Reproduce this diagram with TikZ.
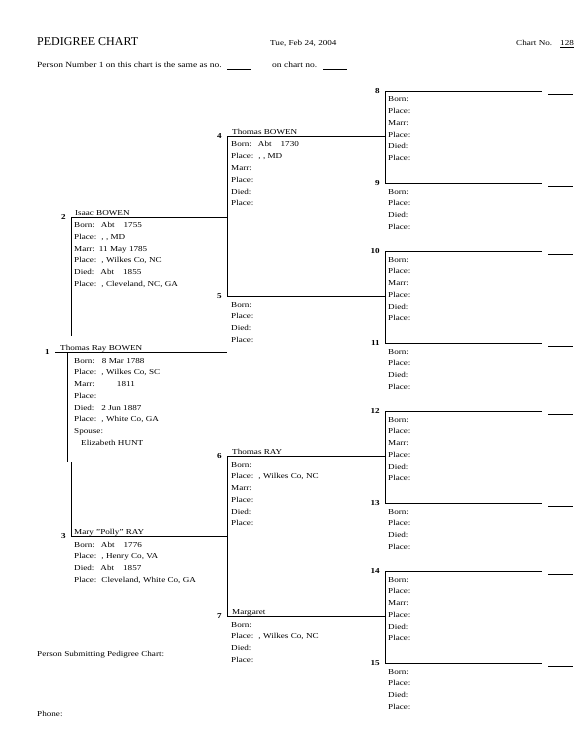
\documentclass[tikz,border=0pt]{standalone}
\usepackage{fontspec}
\setmainfont[FakeStretch=1.2]{Liberation Serif}
\newfontfamily\titlefont{Liberation Serif}
\newcommand\gp[1]{\hspace*{#1pt}}
% #1 id, #2 line start x, #3 line y, #4 name x, #5 body x, #6 name, #7 body lines
\newcommand\pgperson[7]{%
  \node[num] (n#1) at (#2-5,#3+2) {#1};
  \node[txt] (nm#1) at (#4,#3-2) {#6};
  \foreach \t [count=\k] in {#7} {\node[txt] (b#1-\k) at (#5,#3+10.5+11.75*\k-11.75) {\t};}
}
\begin{document}
\begin{tikzpicture}[x=1pt,y=-1pt,
  ln/.style={line width=0.9pt},
  txt/.style={anchor=base west,inner sep=0pt,font=\fontsize{7.6}{9}\selectfont},
  hdr/.style={anchor=base west,inner sep=0pt,font=\fontsize{7.9}{10}\selectfont},
  num/.style={anchor=base east,inner sep=0pt,font=\fontsize{7.6}{9}\selectfont\bfseries}]
\useasboundingbox[fill=white] (0,0) rectangle (576,754);

% header
\node[anchor=base west,inner sep=0pt,font=\titlefont\fontsize{12}{14}\selectfont] (title) at (37,46) {PEDIGREE CHART};
\node[txt] (date) at (270,46) {Tue, Feb 24, 2004};
\node[txt] (chartno) at (516,46) {Chart No.};
\node[txt] (cnum) at (560,46) {128};
\draw[line width=0.6pt] ([yshift=-1.5pt]cnum.base west) -- ([yshift=-1.5pt]cnum.base east);
\node[hdr] (same) at (37,68) {Person Number 1 on this chart is the same as no.};
\coordinate (bl1) at (227,69); \coordinate (bl2) at (251,69);
\draw[ln] (bl1) -- (bl2);
\node[hdr] (onchart) at (272,68) {on chart no.};
\coordinate (bl3) at (323,69); \coordinate (bl4) at (347,69);
\draw[ln] (bl3) -- (bl4);

% line coordinates
\coordinate (s1) at (55,352.5);  \coordinate (e1) at (227,352.5);
\coordinate (s2) at (71,217);    \coordinate (e2) at (227,217);
\coordinate (s3) at (71,536.5);  \coordinate (e3) at (227,536.5);
\foreach \i/\y in {4/136.5,5/296.5,6/456.5,7/616.5}{
  \coordinate (s\i) at (227,\y); \coordinate (e\i) at (385,\y);}
\foreach \i/\y in {8/91.5,9/183.5,10/251.5,11/343.5,12/411.5,13/503.5,14/571.5,15/663.5}{
  \coordinate (s\i) at (385,\y); \coordinate (e\i) at (541.5,\y);
  \coordinate (ta\i) at (548,\y+3); \coordinate (tb\i) at (573,\y+3);}

% horizontal lines
\foreach \i in {1,...,15}{\draw[ln] (s\i) -- (e\i);}
\foreach \i in {8,...,15}{\draw[ln] (ta\i) -- (tb\i);}
% brackets
\foreach \a/\b in {4/5,6/7,8/9,10/11,12/13,14/15}{\draw[ln] (s\a) -- (s\b);}
\coordinate (v2) at (71,336);
\coordinate (v1a) at (67,352.5); \coordinate (v1b) at (67,462);
\coordinate (v3) at (71,462);
\draw[ln] (s2) -- (v2);
\draw[ln] (v1a) -- (v1b);
\draw[ln] (v3) -- (s3);

% persons
\pgperson{1}{55}{352.5}{60}{74}{Thomas Ray BOWEN}{{Born:\gp{7}8 Mar 1788},{Place:\gp{5}, Wilkes Co, SC},{Marr:\gp{22}1811},{Place:},{Died:\gp{7}2 Jun 1887},{Place:\gp{5}, White Co, GA},{Spouse:},{\gp{7}Elizabeth HUNT}}
\pgperson{2}{71}{217}{75}{74}{Isaac BOWEN}{{Born:\gp{6}Abt\gp{9}1755},{Place:\gp{5}, , MD},{Marr:\gp{4}11 May 1785},{Place:\gp{5}, Wilkes Co, NC},{Died:\gp{6}Abt\gp{9}1855},{Place:\gp{5}, Cleveland, NC, GA}}
\pgperson{3}{71}{536.5}{74}{74}{Mary "Polly" RAY}{{Born:\gp{6}Abt\gp{9}1776},{Place:\gp{5}, Henry Co, VA},{Died:\gp{6}Abt\gp{9}1857},{Place:\gp{5}Cleveland, White Co, GA}}
\pgperson{4}{227}{136.5}{232}{231}{Thomas BOWEN}{{Born:\gp{6}Abt\gp{9}1730},{Place:\gp{5}, , MD},{Marr:},{Place:},{Died:},{Place:}}
\pgperson{5}{227}{296.5}{232}{231}{}{{Born:},{Place:},{Died:},{Place:}}
\pgperson{6}{227}{456.5}{232}{231}{Thomas RAY}{{Born:},{Place:\gp{5}, Wilkes Co, NC},{Marr:},{Place:},{Died:},{Place:}}
\pgperson{7}{227}{616.5}{232}{231}{Margaret}{{Born:},{Place:\gp{5}, Wilkes Co, NC},{Died:},{Place:}}
\foreach \i/\y in {8/91.5,10/251.5,12/411.5,14/571.5}{
  \pgperson{\i}{385}{\y}{388}{388}{}{{Born:},{Place:},{Marr:},{Place:},{Died:},{Place:}}}
\foreach \i/\y in {9/183.5,11/343.5,13/503.5,15/663.5}{
  \pgperson{\i}{385}{\y}{388}{388}{}{{Born:},{Place:},{Died:},{Place:}}}

% footer
\node[txt] (submit) at (37,656) {Person Submitting Pedigree Chart:};
\node[txt] (phone) at (37,716) {Phone:};
\end{tikzpicture}
\end{document}
